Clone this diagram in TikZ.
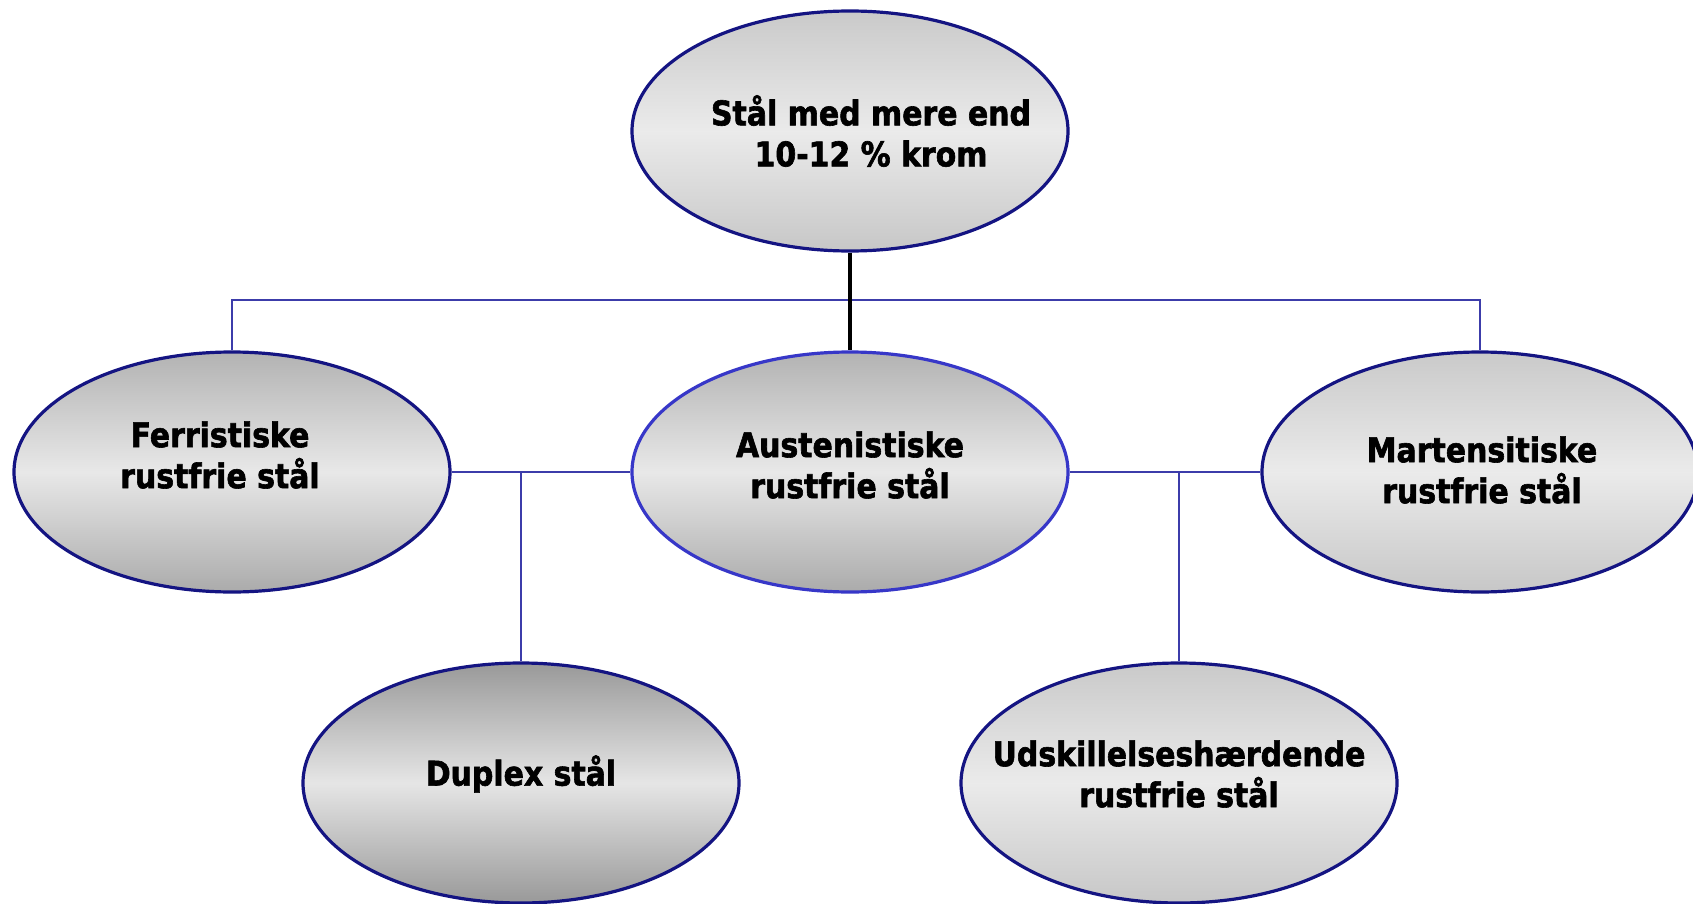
\documentclass[tikz,border=0pt]{standalone}
\usepackage{fontspec}
\newfontfamily\lblfont[FakeStretch=0.88,FakeBold=1.8]{DejaVu Sans}
\usetikzlibrary{shapes.geometric,shadings}
\definecolor{navyline}{RGB}{20,20,130}
\definecolor{brightline}{RGB}{55,55,200}
\definecolor{conn}{RGB}{60,60,170}
\tikzset{
  oval/.style={ellipse, draw=navyline, line width=3.2pt, minimum width=436pt, minimum height=240pt, inner sep=0pt},
  lightsh/.style={top color=black!21, bottom color=black!22, middle color=black!8},
  midsh/.style={top color=black!30, bottom color=black!33, middle color=black!9},
  darksh/.style={top color=black!40, bottom color=black!40, middle color=black!10},
  lbl/.style={align=center, font=\lblfont\bfseries\fontsize{34}{41}\selectfont, inner sep=0pt},
  conline/.style={draw=conn, line width=2.6pt},
}
\begin{document}
\begin{tikzpicture}[x=1pt,y=-1pt]
\useasboundingbox (0,0) rectangle (1693,904);
\begin{scope}
\clip (0,0) rectangle (1693,904);
\coordinate (bar) at (232,300);
\coordinate (barR) at (1480,300);
\coordinate (jl) at (521,472);
\coordinate (jr) at (1179,472);

\node[oval, lightsh] (top) at (850,131) {};
\node[oval, midsh] (ferr) at (232,472) {};
\node[oval, midsh, draw=brightline] (aust) at (850,472) {};
\node[oval, lightsh] (mart) at (1480,472) {};
\node[oval, darksh] (dup) at (521,783) {};
\node[oval, lightsh] (udsk) at (1179,783) {};

\draw[conline] (ferr.north) -- (bar) -- (barR) -- (mart.north);
\draw[line width=3.6pt, black] (top.south) -- (aust.north);
\draw[conline] (ferr.east) -- (aust.west);
\draw[conline] (aust.east) -- (mart.west);
\draw[conline] (jl) -- (dup.north);
\draw[conline] (jr) -- (udsk.north);

\node[lbl] (toptxt) at (871,131) {Stål med mere end\\10-12 \% krom};
\node[lbl] (ferrtxt) at (220,455) {Ferristiske\\rustfrie stål};
\node[lbl] (austtxt) at (850,465) {Austenistiske\\rustfrie stål};
\node[lbl] (marttxt) at (1482,470) {Martensitiske\\rustfrie stål};
\node[lbl] (duptxt) at (521,774) {Duplex stål};
\node[lbl] (udsktxt) at (1179,774) {Udskillelseshærdende\\rustfrie stål};
\end{scope}
\end{tikzpicture}
\end{document}
